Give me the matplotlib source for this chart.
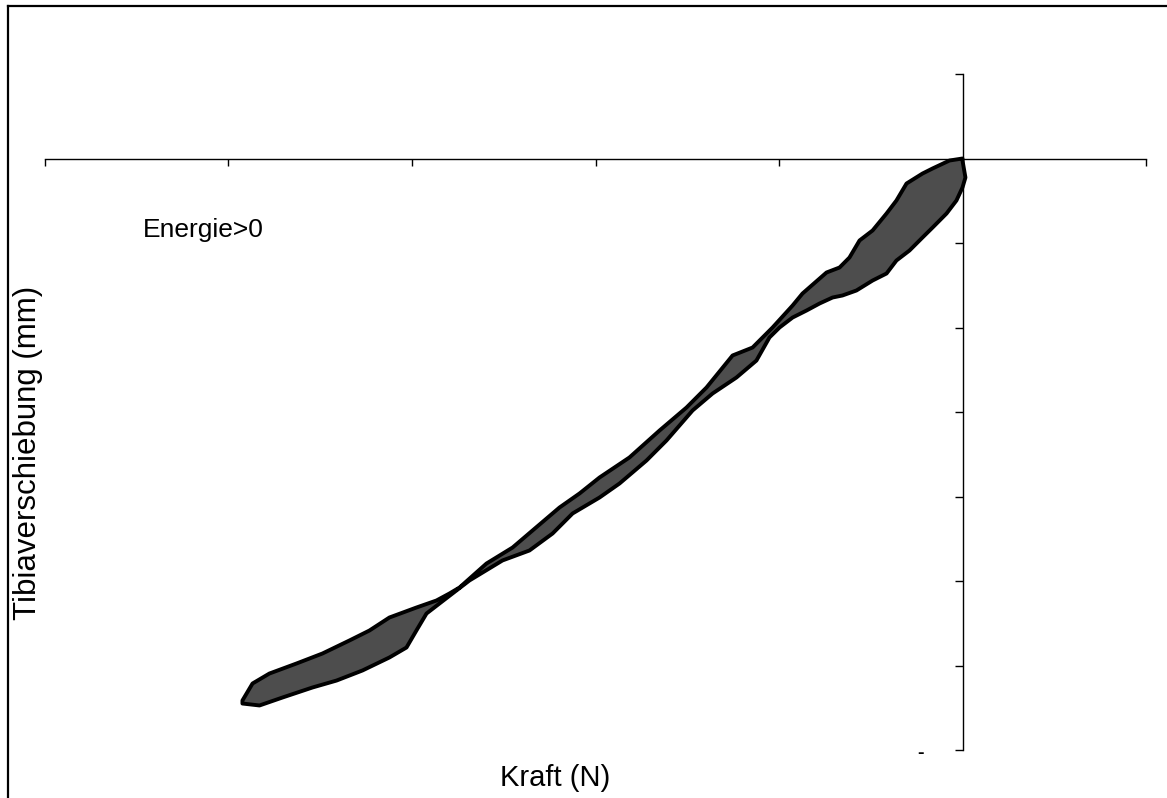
import numpy as np
import matplotlib.pyplot as plt
from matplotlib.lines import Line2D

# Belastung (obere Kante der Schleife), Kraft in N, Verschiebung in mm
kraft_auf = [-392.4, -386.9, -377.7, -362.9, -348.8, -334.1, -323.2, -312.3,
             -297.6, -286.7, -279.6, -274.1, -259.4, -245.2, -234.3, -219.6,
             -208.7, -197.8, -181.5, -165.1, -150.4, -139.5, -125.3, -114.4,
             -103.5, -92.6, -87.2, -74.1, -67.0, -61.6, -56.1, -49.0, -41.4,
             -36.0, -30.5, -21.8, -16.3, -7.1, 0.0]
weg_auf = [-6.414, -6.213, -6.095, -5.976, -5.858, -5.704, -5.586, -5.432,
           -5.314, -5.231, -5.148, -5.077, -4.793, -4.604, -4.402, -4.130,
           -3.964, -3.775, -3.538, -3.219, -2.947, -2.710, -2.331, -2.237,
           -2.000, -1.740, -1.598, -1.349, -1.290, -1.172, -0.970, -0.852,
           -0.651, -0.497, -0.296, -0.178, -0.118, -0.024, 0.0]

# Entlastung (untere Kante), vom Ursprung zurück
kraft_ab = [0.0, 1.6, 0.0, -3.3, -8.7, -16.3, -21.8, -28.9, -36.0, -41.4,
            -49.0, -57.8, -65.4, -70.8, -77.9, -85.0, -92.6, -99.7, -105.2,
            -112.3, -123.2, -136.2, -147.1, -161.3, -172.2, -186.9, -197.8,
            -212.5, -223.4, -236.0, -250.7, -268.7, -285.0, -292.1, -297.6,
            -303.0, -312.3, -327.0, -341.1, -354.2, -370.6, -383.1, -392.4]
weg_ab = [-0.024, -0.225, -0.343, -0.497, -0.651, -0.817, -0.935, -1.089,
          -1.207, -1.361, -1.444, -1.562, -1.621, -1.645, -1.716, -1.799,
          -1.882, -2.000, -2.118, -2.391, -2.592, -2.781, -2.982, -3.337,
          -3.574, -3.846, -4.012, -4.201, -4.438, -4.639, -4.757, -4.994,
          -5.266, -5.385, -5.586, -5.787, -5.905, -6.059, -6.178, -6.260,
          -6.379, -6.473, -6.450]

x_ticks = [-500, -400, -300, -200, -100, 0, 100]
y_ticks = [-7, -6, -5, -4, -3, -2, -1, 0, 1]

plt.rcParams['font.family'] = ['Liberation Sans', 'DejaVu Sans']

W, H = 1167, 798
fig = plt.figure(figsize=(W / 100, H / 100), dpi=100)
ax = fig.add_axes([45 / W, 1 - 750 / H, 1101 / W, 676 / H])

x = np.concatenate([kraft_auf, kraft_ab])
y = np.concatenate([weg_auf, weg_ab])
ax.fill(x, y, facecolor='#4d4d4d', edgecolor='black', linewidth=2.8,
        joinstyle='round', zorder=3)

ax.set_xlim(-500, 100)
ax.set_ylim(-7, 1)
ax.set_xticks(x_ticks)
ax.set_yticks(y_ticks)
ax.set_xticklabels([])
ax.set_yticklabels([])

for s in ['top', 'right']:
    ax.spines[s].set_visible(False)
ax.spines['left'].set_position(('data', 0))
ax.spines['bottom'].set_position(('data', 0))
ax.spines['left'].set_linewidth(1.0)
ax.spines['bottom'].set_linewidth(1.0)
ax.tick_params(axis='x', direction='out', length=5, width=1)
ax.tick_params(axis='y', direction='out', length=6, width=1)
ax.patch.set_alpha(0)

ax.text(143 / W, 1 - 230 / H, 'Energie>0', transform=fig.transFigure,
        fontsize=19, ha='left', va='center')
fig.text(555 / W, 1 - 778 / H, 'Kraft (N)', fontsize=21, ha='center', va='center')
fig.text(28 / W, 1 - 453 / H, 'Tibiaverschiebung (mm)', fontsize=22.5,
         rotation=90, ha='center', va='center')
fig.text(920 / W, 1 - 753 / H, '-', fontsize=14, fontweight='bold',
         ha='center', va='center')

# Rahmen links und oben
fig.add_artist(Line2D([8 / W, 8 / W], [0, 1 - 6 / H], color='black', lw=1.6))
fig.add_artist(Line2D([8 / W, 1], [1 - 6 / H, 1 - 6 / H], color='black', lw=1.6))

fig.savefig('out.png', dpi=100, facecolor='white')
